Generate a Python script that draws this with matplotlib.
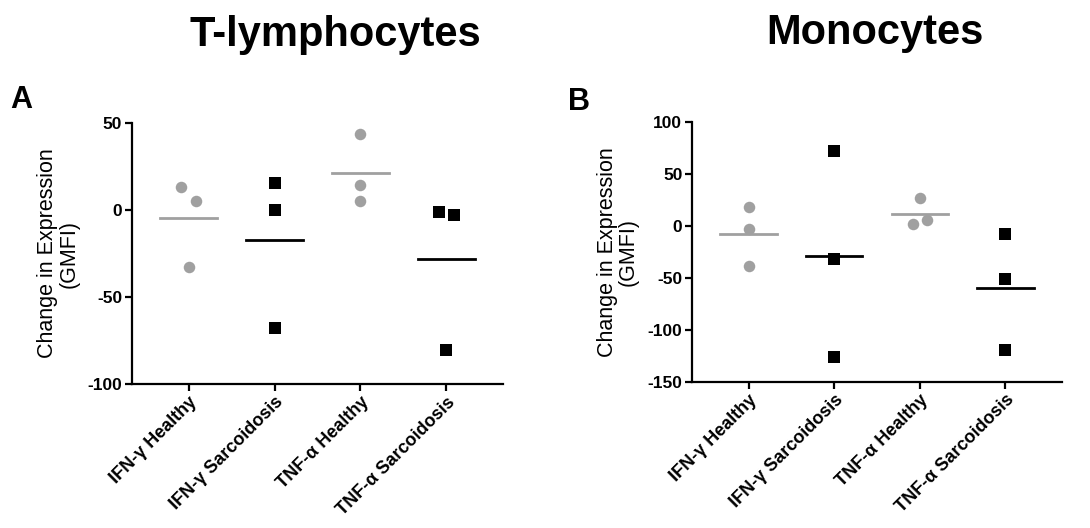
import numpy as np
import matplotlib.pyplot as plt

plt.rcParams['font.family'] = ['Liberation Sans', 'DejaVu Sans']
plt.rcParams['axes.unicode_minus'] = False

# Categories
groups = ["IFN-γ Healthy", "IFN-γ Sarcoidosis", "TNF-α Healthy", "TNF-α Sarcoidosis"]
healthy = [True, False, True, False]

# Panel A: T-lymphocytes (change in GMFI), per group
tcell_ifn_healthy = [13.5, 5.3, -32.7]
tcell_ifn_sarc = [15.4, 0.2, -67.9]
tcell_tnf_healthy = [43.9, 14.6, 5.1]
tcell_tnf_sarc = [-1.3, -2.7, -80.6]

# Panel B: Monocytes
mono_ifn_healthy = [17.9, -2.9, -38.5]
mono_ifn_sarc = [71.8, -31.7, -126.3]
mono_tnf_healthy = [26.9, 1.9, 5.1]
mono_tnf_sarc = [-7.7, -51.6, -119.2]

# small horizontal jitter for overlapping points (category units)
tcell_offsets = [[-0.085, 0.085, 0.0], [0, 0, 0], [0, 0, 0], [-0.09, 0.09, 0.0]]
mono_offsets = [[0, 0, 0], [0, 0, 0], [0.0, -0.085, 0.085], [0, 0, 0]]

tcell = [tcell_ifn_healthy, tcell_ifn_sarc, tcell_tnf_healthy, tcell_tnf_sarc]
mono = [mono_ifn_healthy, mono_ifn_sarc, mono_tnf_healthy, mono_tnf_sarc]

gray = '#a0a0a0'

fig = plt.figure(figsize=(10.9, 5.28), dpi=100)
axA = fig.add_axes([0.1211, 0.2727, 0.3404, 0.4943])
axB = fig.add_axes([0.6349, 0.2771, 0.3394, 0.4924])


def draw_panel(ax, data, offsets, ylim, yticks):
    for i, vals in enumerate(data):
        xs = i + np.array(offsets[i])
        if healthy[i]:
            ax.plot(xs, vals, 'o', color=gray, markersize=8.3, markeredgewidth=0, clip_on=False)
            c = gray
        else:
            ax.plot(xs, vals, 's', color='black', markersize=8, markeredgewidth=0, clip_on=False)
            c = 'black'
        m = np.mean(vals)
        ax.plot([i - 0.33, i + 0.33], [m, m], color=c, lw=2)
    ax.set_xlim(-0.66, 3.66)
    ax.set_ylim(*ylim)
    ax.set_yticks(yticks)
    ax.set_xticks(range(len(groups)))
    ax.set_xticklabels(groups, rotation=45, ha='right', rotation_mode='anchor',
                       fontsize=13, fontweight='bold')
    for lab in ax.get_yticklabels():
        lab.set_fontweight('bold')
        lab.set_fontsize(12.5)
    ax.spines['top'].set_visible(False)
    ax.spines['right'].set_visible(False)
    ax.spines['left'].set_linewidth(1.6)
    ax.spines['bottom'].set_linewidth(1.6)
    ax.tick_params(width=1.6, length=5, pad=2)
    ax.set_ylabel("Change in Expression\n(GMFI)", fontsize=15.5, labelpad=6, linespacing=1.0)


draw_panel(axA, tcell, tcell_offsets, (-100, 50), [-100, -50, 0, 50])
draw_panel(axB, mono, mono_offsets, (-150, 100), [-150, -100, -50, 0, 50, 100])

fig.text(335 / 1090, 1 - 35 / 528, "T-lymphocytes", fontsize=30, fontweight='bold',
         ha='center', va='center')
fig.text(875 / 1090, 1 - 33 / 528, "Monocytes", fontsize=30, fontweight='bold',
         ha='center', va='center')
fig.text(10 / 1090, 1 - 100 / 528, "A", fontsize=22, fontweight='bold', ha='left', va='center')
fig.text(568 / 1090, 1 - 102 / 528, "B", fontsize=22, fontweight='bold', ha='left', va='center')

fig.savefig('out.png', dpi=100)
